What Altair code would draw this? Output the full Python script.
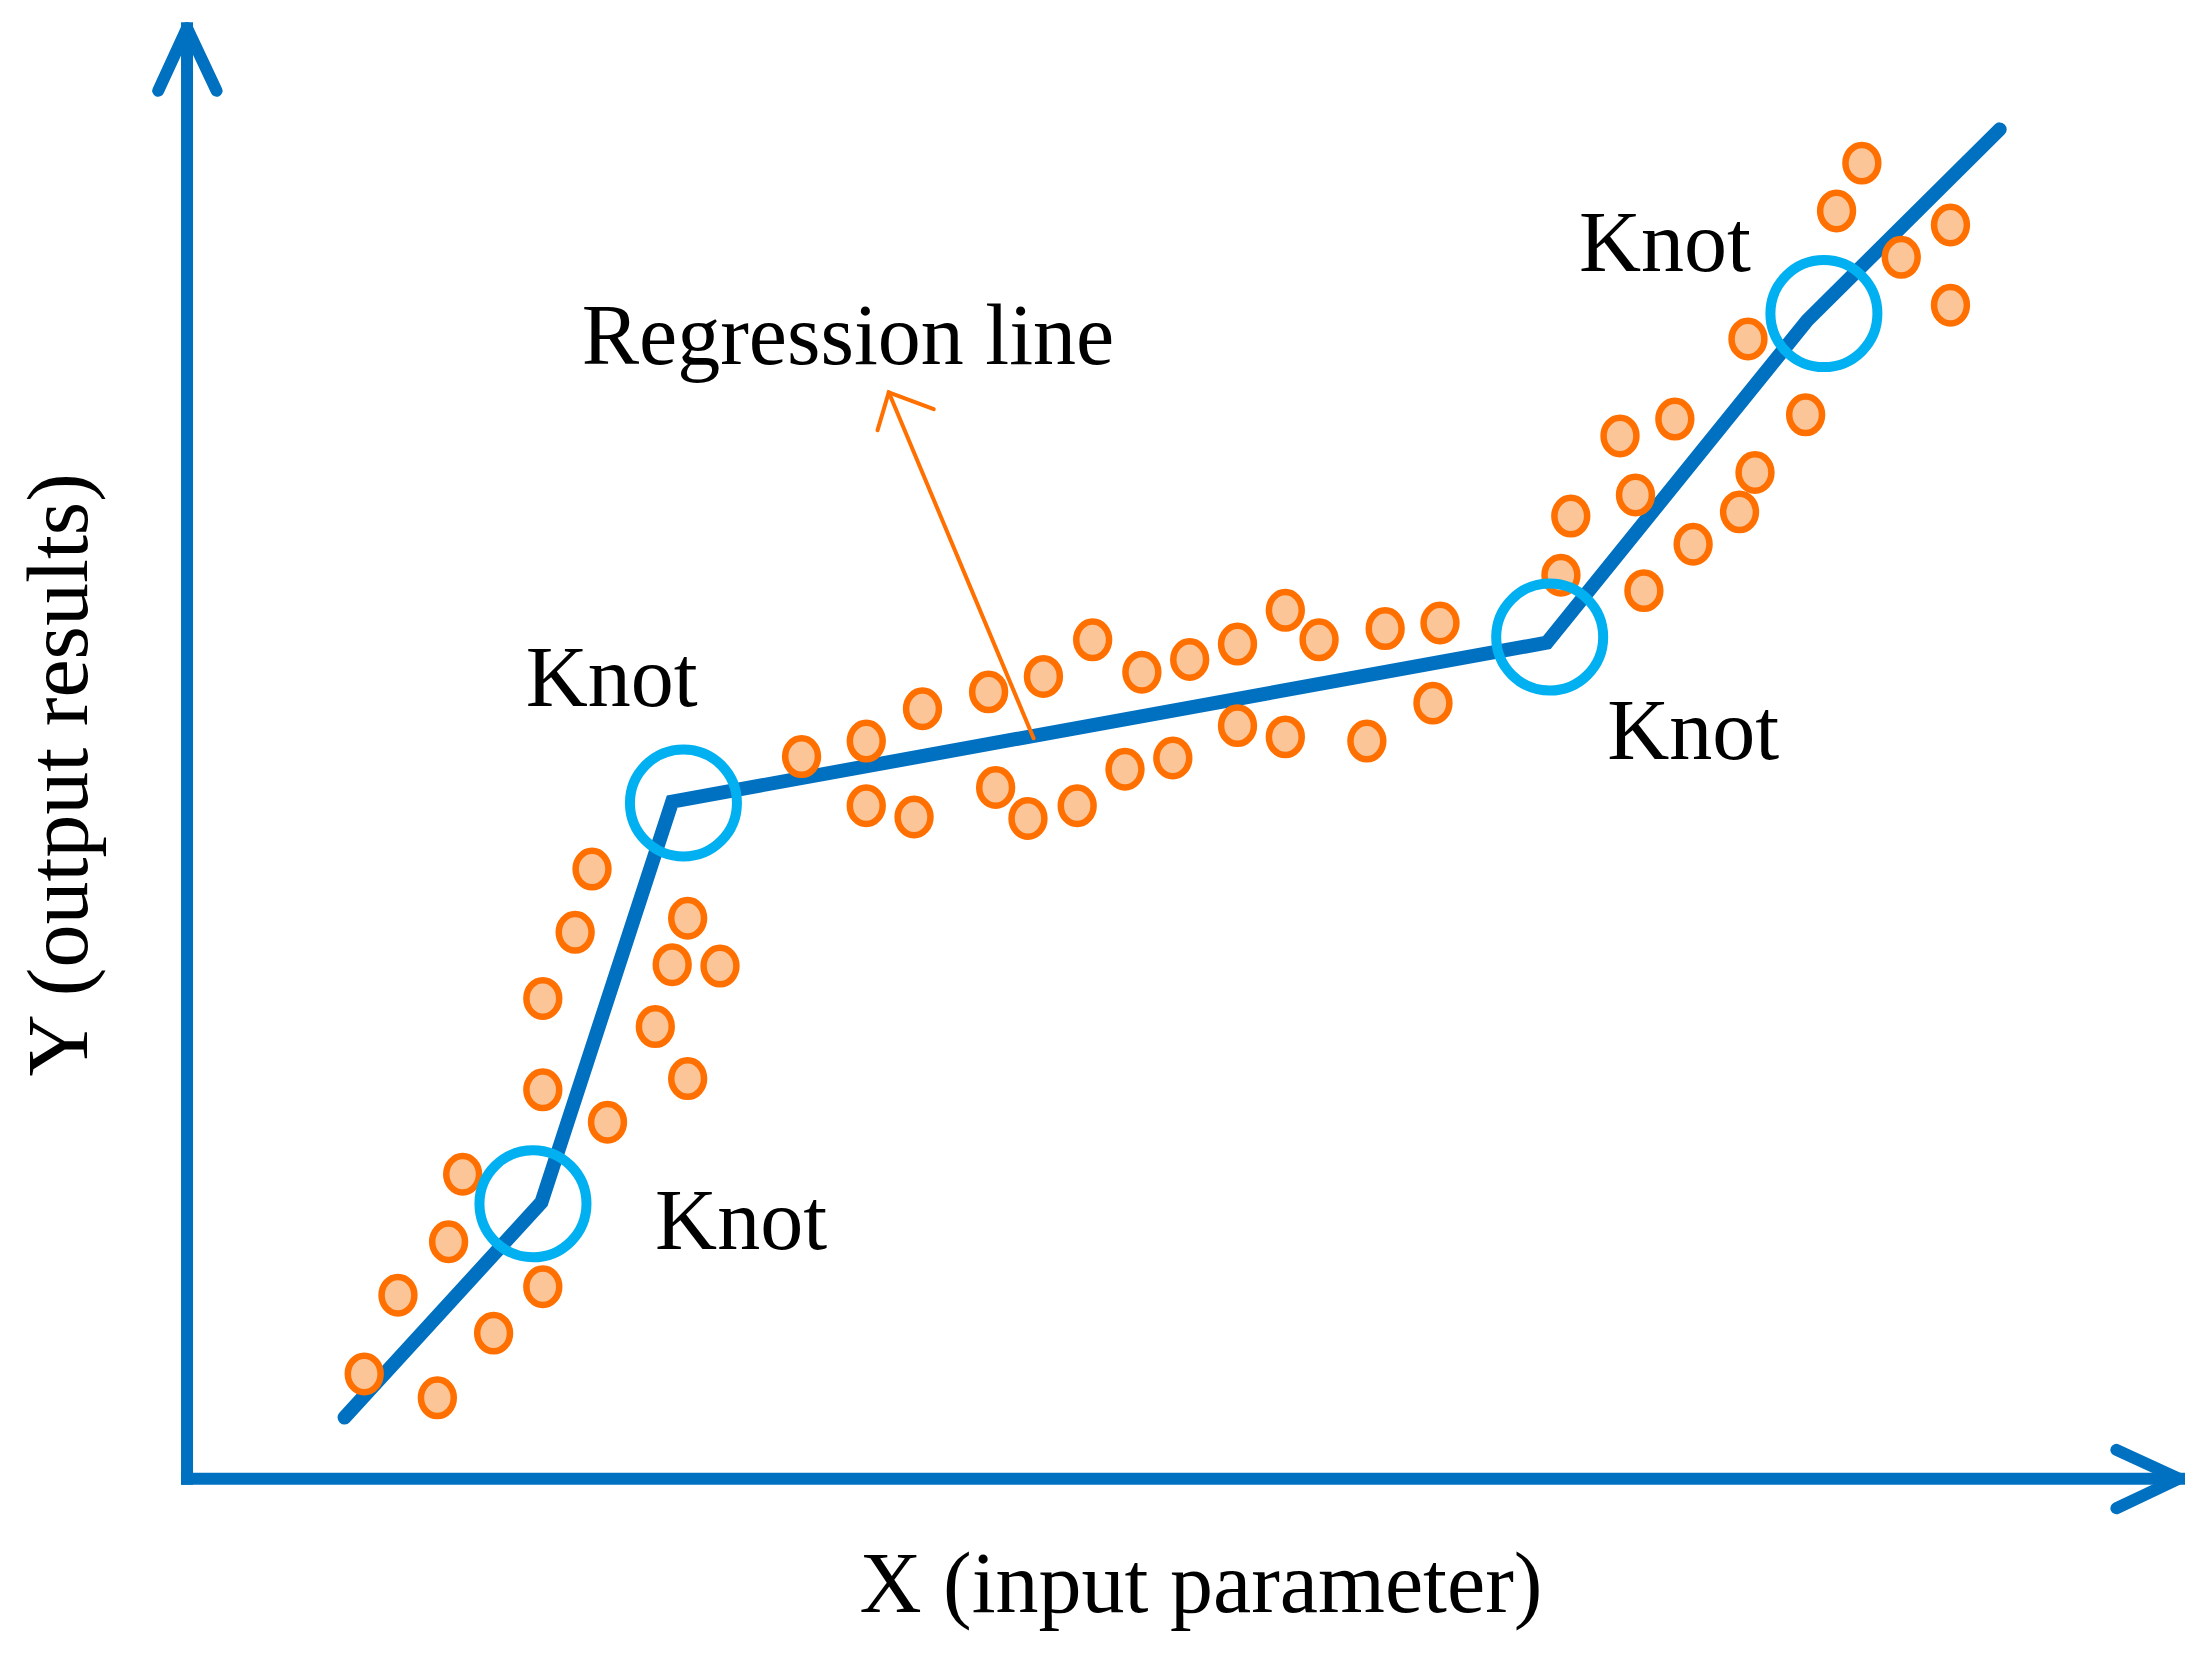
import altair as alt
import pandas as pd

# ---- data (coordinates in the schematic's own drawing units) ----
dot_x = [259, 283, 311, 319, 329, 351, 386, 386, 386, 409, 421, 432, 466, 478, 489, 489, 512,
         570, 616, 616, 650, 656, 703, 708, 731, 742, 766, 777, 800, 812, 834, 846, 880, 880,
         914, 914, 938, 972, 985, 1019, 1024,
         1110, 1117, 1152, 1163, 1169, 1191, 1204, 1237, 1248, 1243, 1284, 1306, 1324, 1352, 1387, 1387]
dot_y = [977, 921, 994, 883, 835, 948, 915, 775, 710, 663, 618, 798, 730, 686, 653, 767, 687,
         538, 527, 573, 581, 504, 492, 560, 582, 481, 573, 455, 547, 478, 539, 469, 458, 516,
         434, 524, 455, 527, 447, 500, 443,
         409, 367, 310, 352, 420, 298, 387, 364, 336, 241, 295, 150, 116, 183, 160, 217]

reg_x = [245, 385, 478, 1100, 1285, 1422]
reg_y = [1008, 855, 570, 457, 228, 92]

knot_x = [379, 486, 1102, 1297]
knot_y = [856, 571, 453, 223]

label_text = ["Regression line", "Knot", "Knot", "Knot", "Knot", "X (input parameter)"]
label_x = [603, 435, 527, 1204, 1184, 854]
label_y = [259, 502, 888, 540, 193, 1146]

ylabel_text = ["Y (output results)"]
ylabel_x = [62]
ylabel_y = [551]

# axes: origin and arrow tips
axis_x0, axis_y0 = 133, 1051.5
axis_top = 20
axis_right = 1549.5
# arrowheads: (group, order, x, y)
head_group = ["up", "up", "up", "right", "right", "right", "reg", "reg", "reg"]
head_order = [0, 1, 2, 0, 1, 2, 0, 1, 2]
head_x = [112.5, 133, 154, 1505, 1549.5, 1505, 624, 632, 664]
head_y = [64.5, 20, 64.5, 1031, 1051.5, 1072.5, 306, 279, 291]

pointer_x = [735, 632]
pointer_y = [525, 279]

# ---- frame ----
W, H = 2189, 1643
K = 2205 / 1568
XD = [8 / K, 2197 / K]
YD = [8 / K, 1651 / K]
xs = alt.Scale(domain=XD, nice=False, zero=False)
ys = alt.Scale(domain=YD, nice=False, zero=False, reverse=True)

BLUE = "#0070C0"
CYAN = "#00B0F0"
ORANGE = "#FF7000"
PEACH = "#FCC597"
FONT = "Liberation Serif"

def X(f="x"):
    return alt.X(f, type="quantitative", scale=xs, axis=None)

def Y(f="y"):
    return alt.Y(f, type="quantitative", scale=ys, axis=None)

axes_df = pd.DataFrame({
    "x": [axis_x0, axis_x0], "y": [axis_y0, axis_y0],
    "x2": [axis_x0, axis_right], "y2": [axis_top, axis_y0],
})
axes = alt.Chart(axes_df).mark_rule(color=BLUE, strokeWidth=12, strokeCap="square").encode(
    x=X(), y=Y(), x2="x2:Q", y2="y2:Q")

heads_df = pd.DataFrame({"g": head_group, "o": head_order, "x": head_x, "y": head_y})
axis_heads = alt.Chart(heads_df).transform_filter(alt.datum.g != "reg").mark_line(
    color=BLUE, strokeWidth=12, strokeCap="round", strokeJoin="round").encode(
    x=X(), y=Y(), detail="g:N", order="o:Q")

reg_df = pd.DataFrame({"x": reg_x, "y": reg_y, "o": list(range(len(reg_x)))})
reg = alt.Chart(reg_df).mark_line(color=BLUE, strokeWidth=14, strokeCap="round",
                                  strokeJoin="miter").encode(x=X(), y=Y(), order="o:Q")

ellipse = "M -0.9 0 A 0.9 1 0 1 1 0.9 0 A 0.9 1 0 1 1 -0.9 0 Z"
dots_df = pd.DataFrame({"x": dot_x, "y": dot_y})
dots = alt.Chart(dots_df).mark_point(shape=ellipse, size=1330, filled=True, fill=PEACH,
                                     stroke=ORANGE, strokeWidth=6.5, opacity=1).encode(x=X(), y=Y())

knots_df = pd.DataFrame({"x": knot_x, "y": knot_y})
knots = alt.Chart(knots_df).mark_point(shape="circle", size=11450, filled=False, stroke=CYAN,
                                       strokeWidth=10, opacity=1).encode(x=X(), y=Y())

ptr_df = pd.DataFrame({"x": pointer_x, "y": pointer_y, "o": [0, 1]})
pointer = alt.Chart(ptr_df).mark_line(color=ORANGE, strokeWidth=4, strokeCap="round").encode(
    x=X(), y=Y(), order="o:Q")
pointer_head = alt.Chart(heads_df).transform_filter(alt.datum.g == "reg").mark_line(
    color=ORANGE, strokeWidth=4, strokeCap="round", strokeJoin="miter").encode(
    x=X(), y=Y(), order="o:Q")

labels_df = pd.DataFrame({"x": label_x, "y": label_y, "t": label_text})
labels = alt.Chart(labels_df).mark_text(font=FONT, fontSize=86, color="black", align="center",
                                        baseline="alphabetic").encode(x=X(), y=Y(), text="t:N")

ylab_df = pd.DataFrame({"x": ylabel_x, "y": ylabel_y, "t": ylabel_text})
ylab = alt.Chart(ylab_df).mark_text(font=FONT, fontSize=86, color="black", align="center",
                                    baseline="alphabetic", angle=270).encode(x=X(), y=Y(), text="t:N")

chart = alt.layer(axes, axis_heads, reg, dots, knots, pointer, pointer_head, labels, ylab).properties(
    width=W, height=H, autosize=alt.AutoSizeParams(type="none"), padding=0, background="white"
).configure_view(stroke=None)

chart.save("out.html", embed_options={"renderer": "svg", "actions": False})
